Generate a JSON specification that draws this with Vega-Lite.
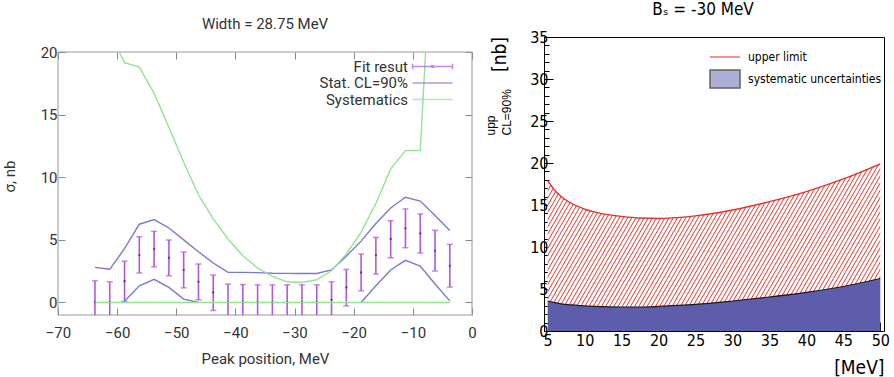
{
  "$schema": "https://vega.github.io/schema/vega-lite/v6.json",
  "background": "white",
  "padding": {"left": 2, "top": 0, "right": 0, "bottom": 0},
  "config": {"axis": {"grid": false, "domain": false}, "view": {"stroke": null}},
  "datasets": {
    "eb": [
      {"x": -63.75, "c": 0, "lo": -1.73, "hi": 1.73},
      {"x": -61.25, "c": 0, "lo": -1.65, "hi": 1.65},
      {"x": -58.75, "c": 1.7, "lo": 0.1, "hi": 3.3},
      {"x": -56.25, "c": 3.79, "lo": 2.35, "hi": 5.25},
      {"x": -53.75, "c": 4.27, "lo": 2.85, "hi": 5.68},
      {"x": -51.25, "c": 3.57, "lo": 2.13, "hi": 4.99},
      {"x": -48.75, "c": 2.59, "lo": 1.17, "hi": 4.03},
      {"x": -46.25, "c": 1.65, "lo": 0.21, "hi": 3.07},
      {"x": -43.75, "c": 0.8, "lo": -0.64, "hi": 2.19},
      {"x": -41.25, "c": 0, "lo": -1.47, "hi": 1.47},
      {"x": -38.75, "c": 0, "lo": -1.43, "hi": 1.43},
      {"x": -36.25, "c": 0, "lo": -1.41, "hi": 1.41},
      {"x": -33.75, "c": 0, "lo": -1.41, "hi": 1.41},
      {"x": -31.25, "c": 0, "lo": -1.41, "hi": 1.41},
      {"x": -28.75, "c": 0, "lo": -1.41, "hi": 1.41},
      {"x": -26.25, "c": 0, "lo": -1.41, "hi": 1.41},
      {"x": -23.75, "c": 0.21, "lo": -1.23, "hi": 1.65},
      {"x": -21.25, "c": 1.2, "lo": -0.27, "hi": 2.64},
      {"x": -18.75, "c": 2.4, "lo": 0.93, "hi": 3.87},
      {"x": -16.25, "c": 3.79, "lo": 2.27, "hi": 5.2},
      {"x": -13.75, "c": 5.07, "lo": 3.57, "hi": 6.53},
      {"x": -11.25, "c": 5.92, "lo": 4.37, "hi": 7.47},
      {"x": -8.75, "c": 5.52, "lo": 3.95, "hi": 7.07},
      {"x": -6.25, "c": 4.13, "lo": 2.51, "hi": 5.76},
      {"x": -3.75, "c": 2.93, "lo": 1.23, "hi": 4.64}
    ],
    "lines": [
      {"g": "stat", "s": "upper", "x": -63.75, "y": 2.8},
      {"g": "stat", "s": "upper", "x": -61.25, "y": 2.65},
      {"g": "stat", "s": "upper", "x": -58.75, "y": 4.3},
      {"g": "stat", "s": "upper", "x": -56.25, "y": 6.25},
      {"g": "stat", "s": "upper", "x": -53.75, "y": 6.62},
      {"g": "stat", "s": "upper", "x": -51.25, "y": 5.95},
      {"g": "stat", "s": "upper", "x": -48.75, "y": 5.0},
      {"g": "stat", "s": "upper", "x": -46.25, "y": 4.05},
      {"g": "stat", "s": "upper", "x": -43.75, "y": 3.15},
      {"g": "stat", "s": "upper", "x": -41.25, "y": 2.4},
      {"g": "stat", "s": "upper", "x": -38.75, "y": 2.4},
      {"g": "stat", "s": "upper", "x": -36.25, "y": 2.38},
      {"g": "stat", "s": "upper", "x": -33.75, "y": 2.33},
      {"g": "stat", "s": "upper", "x": -31.25, "y": 2.32},
      {"g": "stat", "s": "upper", "x": -28.75, "y": 2.32},
      {"g": "stat", "s": "upper", "x": -26.25, "y": 2.32},
      {"g": "stat", "s": "upper", "x": -23.75, "y": 2.6},
      {"g": "stat", "s": "upper", "x": -21.25, "y": 3.7},
      {"g": "stat", "s": "upper", "x": -18.75, "y": 4.9},
      {"g": "stat", "s": "upper", "x": -16.25, "y": 6.3},
      {"g": "stat", "s": "upper", "x": -13.75, "y": 7.55},
      {"g": "stat", "s": "upper", "x": -11.25, "y": 8.4},
      {"g": "stat", "s": "upper", "x": -8.75, "y": 8.1},
      {"g": "stat", "s": "upper", "x": -6.25, "y": 6.95},
      {"g": "stat", "s": "upper", "x": -3.75, "y": 5.75},
      {"g": "stat", "s": "lowL", "x": -58.75, "y": 0.1},
      {"g": "stat", "s": "lowL", "x": -56.25, "y": 1.33},
      {"g": "stat", "s": "lowL", "x": -53.75, "y": 1.85},
      {"g": "stat", "s": "lowL", "x": -51.25, "y": 1.2},
      {"g": "stat", "s": "lowL", "x": -48.75, "y": 0.27},
      {"g": "stat", "s": "lowL", "x": -46.25, "y": 0},
      {"g": "stat", "s": "lowR", "x": -18.75, "y": 0},
      {"g": "stat", "s": "lowR", "x": -16.25, "y": 1.33},
      {"g": "stat", "s": "lowR", "x": -13.75, "y": 2.6},
      {"g": "stat", "s": "lowR", "x": -11.25, "y": 3.36},
      {"g": "stat", "s": "lowR", "x": -8.75, "y": 2.9},
      {"g": "stat", "s": "lowR", "x": -6.25, "y": 1.47},
      {"g": "stat", "s": "lowR", "x": -3.75, "y": 0.13},
      {"g": "sys", "s": "sys", "x": -59.65, "y": 20},
      {"g": "sys", "s": "sys", "x": -58.75, "y": 19.15},
      {"g": "sys", "s": "sys", "x": -56.25, "y": 18.8},
      {"g": "sys", "s": "sys", "x": -53.75, "y": 16.7},
      {"g": "sys", "s": "sys", "x": -51.25, "y": 14.0},
      {"g": "sys", "s": "sys", "x": -48.75, "y": 11.2},
      {"g": "sys", "s": "sys", "x": -46.25, "y": 8.6},
      {"g": "sys", "s": "sys", "x": -43.75, "y": 6.67},
      {"g": "sys", "s": "sys", "x": -41.25, "y": 5.07},
      {"g": "sys", "s": "sys", "x": -38.75, "y": 3.73},
      {"g": "sys", "s": "sys", "x": -36.25, "y": 2.75},
      {"g": "sys", "s": "sys", "x": -33.75, "y": 2.08},
      {"g": "sys", "s": "sys", "x": -31.25, "y": 1.65},
      {"g": "sys", "s": "sys", "x": -28.75, "y": 1.6},
      {"g": "sys", "s": "sys", "x": -26.25, "y": 1.81},
      {"g": "sys", "s": "sys", "x": -23.75, "y": 2.53},
      {"g": "sys", "s": "sys", "x": -21.25, "y": 3.87},
      {"g": "sys", "s": "sys", "x": -18.75, "y": 5.6},
      {"g": "sys", "s": "sys", "x": -16.25, "y": 7.9},
      {"g": "sys", "s": "sys", "x": -13.75, "y": 10.67},
      {"g": "sys", "s": "sys", "x": -11.25, "y": 12.13},
      {"g": "sys", "s": "sys", "x": -8.75, "y": 12.13},
      {"g": "sys", "s": "sys", "x": -7.85, "y": 20},
      {"g": "sys", "s": "zero", "x": -63.75, "y": 0},
      {"g": "sys", "s": "zero", "x": -3.75, "y": 0}
    ],
    "right": [
      {"x": 5, "up": 17.9, "sys": 3.57},
      {"x": 6, "up": 16.7, "sys": 3.37},
      {"x": 7, "up": 15.9, "sys": 3.2},
      {"x": 8, "up": 15.3, "sys": 3.12},
      {"x": 10, "up": 14.5, "sys": 2.98},
      {"x": 12.5, "up": 13.95, "sys": 2.9},
      {"x": 15, "up": 13.65, "sys": 2.86},
      {"x": 17.5, "up": 13.45, "sys": 2.86},
      {"x": 20, "up": 13.4, "sys": 2.93},
      {"x": 22.5, "up": 13.5, "sys": 3.04},
      {"x": 25, "up": 13.7, "sys": 3.17},
      {"x": 30, "up": 14.4, "sys": 3.57},
      {"x": 35, "up": 15.4, "sys": 4.05},
      {"x": 40, "up": 16.6, "sys": 4.6},
      {"x": 45, "up": 18.1, "sys": 5.3},
      {"x": 50, "up": 19.9, "sys": 6.25}
    ]
  },
  "spacing": 6,
  "resolve": {"scale": {"color": "independent", "shape": "independent", "fill": "independent", "stroke": "independent"}, "legend": {"color": "independent", "shape": "independent", "fill": "independent", "stroke": "independent"}},
  "hconcat": [
    {
      "width": 414,
      "height": 278,
      "title": {"text": "Width = 28.75 MeV", "font": "Roboto", "fontSize": 15, "fontWeight": "normal", "color": "#333333", "offset": 5},
      "resolve": {"axis": {"x": "independent", "y": "independent"}},
      "layer": [
        {
          "data": {"values": [{}]},
          "mark": {"type": "rect", "fill": null, "stroke": "#999999", "strokeWidth": 1},
          "encoding": {
            "x": {"datum": -70, "type": "quantitative", "scale": {"domain": [-70, 0], "nice": false, "zero": false}, "axis": null},
            "x2": {"datum": 0},
            "y": {"datum": -1, "type": "quantitative", "scale": {"domain": [-1, 21.2], "nice": false, "zero": false}, "axis": null},
            "y2": {"datum": 20}
          }
        },
        {
          "data": {"name": "eb"},
          "mark": {"type": "rule", "color": "#b05ad8", "strokeWidth": 1.6, "clip": true},
          "encoding": {
            "x": {"field": "x", "type": "quantitative",
              "axis": {"orient": "bottom", "values": [-70, -60, -50, -40, -30, -20, -10, 0], "title": "Peak position, MeV", "tickSize": -7, "tickColor": "#888888", "labelFont": "Roboto", "labelFontSize": 15, "labelColor": "#333333", "labelPadding": 17, "labelFlush": false, "labelOverlap": false, "titleFont": "Roboto", "titleFontSize": 15, "titleFontWeight": "normal", "titleColor": "#333333", "titlePadding": 11}},
            "y": {"field": "lo", "type": "quantitative",
              "axis": {"orient": "left", "values": [0, 5, 10, 15, 20], "title": "σ, nb", "tickSize": -7, "tickColor": "#888888", "labelFont": "Roboto", "labelFontSize": 15, "labelColor": "#333333", "labelPadding": 8, "labelOverlap": false, "titleFont": "Roboto", "titleFontSize": 15, "titleFontWeight": "normal", "titleColor": "#333333", "titlePadding": 23}},
            "y2": {"field": "hi"}
          }
        },
        {
          "data": {"name": "eb"},
          "transform": [{"fold": ["lo", "hi"], "as": ["k", "v"]}],
          "mark": {"type": "tick", "orient": "horizontal", "color": "#b05ad8", "size": 6, "thickness": 1.5, "clip": true},
          "encoding": {
            "x": {"field": "x", "type": "quantitative", "axis": {"orient": "top", "offset": -15, "values": [-70, -60, -50, -40, -30, -20, -10, 0], "labels": false, "tickSize": -7, "tickColor": "#888888", "title": null}},
            "y": {"field": "v", "type": "quantitative", "axis": {"orient": "right", "values": [0, 5, 10, 15, 20], "labels": false, "tickSize": -7, "tickColor": "#888888", "title": null}}
          }
        },
        {
          "data": {"name": "eb"},
          "mark": {"type": "point", "filled": true, "size": 5, "color": "#6a2c8c", "opacity": 1, "clip": true},
          "encoding": {
            "x": {"field": "x", "type": "quantitative", "axis": null},
            "y": {"field": "c", "type": "quantitative", "axis": null}
          }
        },
        {
          "data": {"name": "lines"},
          "transform": [{"filter": "datum.g == 'stat'"}],
          "mark": {"type": "line", "color": "#7a7ad6", "strokeWidth": 1.4, "clip": true},
          "encoding": {
            "x": {"field": "x", "type": "quantitative", "axis": null},
            "y": {"field": "y", "type": "quantitative", "axis": null},
            "detail": {"field": "s"}
          }
        },
        {
          "data": {"name": "lines"},
          "transform": [{"filter": "datum.g == 'sys'"}],
          "mark": {"type": "line", "color": "#92e492", "strokeWidth": 1.4, "clip": true},
          "encoding": {
            "x": {"field": "x", "type": "quantitative", "axis": null},
            "y": {"field": "y", "type": "quantitative", "axis": null},
            "detail": {"field": "s"}
          }
        },
        {
          "data": {"values": [{"series": "Fit resut"}, {"series": "Stat. CL=90%"}, {"series": "Systematics"}]},
          "mark": {"type": "point", "filled": false, "strokeWidth": 1.5},
          "encoding": {
            "x": {"field": "px", "type": "quantitative", "axis": null},
            "y": {"field": "py", "type": "quantitative", "axis": null},
            "color": {"field": "series", "type": "nominal",
              "scale": {"domain": ["Fit resut", "Stat. CL=90%", "Systematics"], "range": ["#b05ad8", "#7a7ad6", "#92e492"]},
              "legend": {"title": null, "orient": "none", "legendX": 367, "legendY": 22, "padding": 0, "symbolSize": 64, "symbolStrokeWidth": 1.5, "labelAlign": "right", "labelOffset": -32, "labelFont": "Roboto", "labelFontSize": 15, "labelColor": "#333333", "rowPadding": 0.5}},
            "shape": {"field": "series", "type": "nominal",
              "scale": {"domain": ["Fit resut", "Stat. CL=90%", "Systematics"], "range": ["M-5,0H5M-5,-0.7V0.7M5,-0.7V0.7M-0.2,-0.2H0.2V0.2H-0.2Z", "M-5,0H5", "M-5,0H5"]},
              "legend": {"title": null, "orient": "none", "legendX": 367, "legendY": 22, "padding": 0, "symbolSize": 64, "symbolStrokeWidth": 1.5, "labelAlign": "right", "labelOffset": -32, "labelFont": "Roboto", "labelFontSize": 15, "labelColor": "#333333", "rowPadding": 0.5}}
          }
        }
      ]
    },
    {
      "width": 340,
      "height": 294,
      "view": {"stroke": "#000000", "strokeWidth": 1},
      "title": {"text": "Bₛ = -30 MeV", "font": "Liberation Sans Narrow, DejaVu Sans Condensed, sans-serif", "fontSize": 17, "fontWeight": "normal", "color": "#000000", "offset": 10, "dx": -11},
      "resolve": {"axis": {"x": "independent", "y": "independent"}},
      "layer": [
        {
          "data": {"name": "right"},
          "mark": {"type": "area", "interpolate": "monotone", "fill": {"gradient": "linear", "x1": 0, "y1": 0, "x2": 1.176, "y2": 0.292, "stops": [
            {"offset": 0, "color": "#ffffff"}, {"offset": 0.005, "color": "#ffffff"}, {"offset": 0.0075, "color": "#e63c32"},
            {"offset": 0.01, "color": "#ffffff"}, {"offset": 0.015, "color": "#ffffff"}, {"offset": 0.0175, "color": "#e63c32"},
            {"offset": 0.02, "color": "#ffffff"}, {"offset": 0.025, "color": "#ffffff"}, {"offset": 0.0275, "color": "#e63c32"},
            {"offset": 0.03, "color": "#ffffff"}, {"offset": 0.035, "color": "#ffffff"}, {"offset": 0.0375, "color": "#e63c32"},
            {"offset": 0.04, "color": "#ffffff"}, {"offset": 0.045, "color": "#ffffff"}, {"offset": 0.0475, "color": "#e63c32"},
            {"offset": 0.05, "color": "#ffffff"}, {"offset": 0.055, "color": "#ffffff"}, {"offset": 0.0575, "color": "#e63c32"},
            {"offset": 0.06, "color": "#ffffff"}, {"offset": 0.065, "color": "#ffffff"}, {"offset": 0.0675, "color": "#e63c32"},
            {"offset": 0.07, "color": "#ffffff"}, {"offset": 0.075, "color": "#ffffff"}, {"offset": 0.0775, "color": "#e63c32"},
            {"offset": 0.08, "color": "#ffffff"}, {"offset": 0.085, "color": "#ffffff"}, {"offset": 0.0875, "color": "#e63c32"},
            {"offset": 0.09, "color": "#ffffff"}, {"offset": 0.095, "color": "#ffffff"}, {"offset": 0.0975, "color": "#e63c32"},
            {"offset": 0.10, "color": "#ffffff"}, {"offset": 0.105, "color": "#ffffff"}, {"offset": 0.1075, "color": "#e63c32"},
            {"offset": 0.11, "color": "#ffffff"}, {"offset": 0.115, "color": "#ffffff"}, {"offset": 0.1175, "color": "#e63c32"},
            {"offset": 0.12, "color": "#ffffff"}, {"offset": 0.125, "color": "#ffffff"}, {"offset": 0.1275, "color": "#e63c32"},
            {"offset": 0.13, "color": "#ffffff"}, {"offset": 0.135, "color": "#ffffff"}, {"offset": 0.1375, "color": "#e63c32"},
            {"offset": 0.14, "color": "#ffffff"}, {"offset": 0.145, "color": "#ffffff"}, {"offset": 0.1475, "color": "#e63c32"},
            {"offset": 0.15, "color": "#ffffff"}, {"offset": 0.155, "color": "#ffffff"}, {"offset": 0.1575, "color": "#e63c32"},
            {"offset": 0.16, "color": "#ffffff"}, {"offset": 0.165, "color": "#ffffff"}, {"offset": 0.1675, "color": "#e63c32"},
            {"offset": 0.17, "color": "#ffffff"}, {"offset": 0.175, "color": "#ffffff"}, {"offset": 0.1775, "color": "#e63c32"},
            {"offset": 0.18, "color": "#ffffff"}, {"offset": 0.185, "color": "#ffffff"}, {"offset": 0.1875, "color": "#e63c32"},
            {"offset": 0.19, "color": "#ffffff"}, {"offset": 0.195, "color": "#ffffff"}, {"offset": 0.1975, "color": "#e63c32"},
            {"offset": 0.20, "color": "#ffffff"}, {"offset": 0.205, "color": "#ffffff"}, {"offset": 0.2075, "color": "#e63c32"},
            {"offset": 0.21, "color": "#ffffff"}, {"offset": 0.215, "color": "#ffffff"}, {"offset": 0.2175, "color": "#e63c32"},
            {"offset": 0.22, "color": "#ffffff"}, {"offset": 0.225, "color": "#ffffff"}, {"offset": 0.2275, "color": "#e63c32"},
            {"offset": 0.23, "color": "#ffffff"}, {"offset": 0.235, "color": "#ffffff"}, {"offset": 0.2375, "color": "#e63c32"},
            {"offset": 0.24, "color": "#ffffff"}, {"offset": 0.245, "color": "#ffffff"}, {"offset": 0.2475, "color": "#e63c32"},
            {"offset": 0.25, "color": "#ffffff"}, {"offset": 0.255, "color": "#ffffff"}, {"offset": 0.2575, "color": "#e63c32"},
            {"offset": 0.26, "color": "#ffffff"}, {"offset": 0.265, "color": "#ffffff"}, {"offset": 0.2675, "color": "#e63c32"},
            {"offset": 0.27, "color": "#ffffff"}, {"offset": 0.275, "color": "#ffffff"}, {"offset": 0.2775, "color": "#e63c32"},
            {"offset": 0.28, "color": "#ffffff"}, {"offset": 0.285, "color": "#ffffff"}, {"offset": 0.2875, "color": "#e63c32"},
            {"offset": 0.29, "color": "#ffffff"}, {"offset": 0.295, "color": "#ffffff"}, {"offset": 0.2975, "color": "#e63c32"},
            {"offset": 0.30, "color": "#ffffff"}, {"offset": 0.305, "color": "#ffffff"}, {"offset": 0.3075, "color": "#e63c32"},
            {"offset": 0.31, "color": "#ffffff"}, {"offset": 0.315, "color": "#ffffff"}, {"offset": 0.3175, "color": "#e63c32"},
            {"offset": 0.32, "color": "#ffffff"}, {"offset": 0.325, "color": "#ffffff"}, {"offset": 0.3275, "color": "#e63c32"},
            {"offset": 0.33, "color": "#ffffff"}, {"offset": 0.335, "color": "#ffffff"}, {"offset": 0.3375, "color": "#e63c32"},
            {"offset": 0.34, "color": "#ffffff"}, {"offset": 0.345, "color": "#ffffff"}, {"offset": 0.3475, "color": "#e63c32"},
            {"offset": 0.35, "color": "#ffffff"}, {"offset": 0.355, "color": "#ffffff"}, {"offset": 0.3575, "color": "#e63c32"},
            {"offset": 0.36, "color": "#ffffff"}, {"offset": 0.365, "color": "#ffffff"}, {"offset": 0.3675, "color": "#e63c32"},
            {"offset": 0.37, "color": "#ffffff"}, {"offset": 0.375, "color": "#ffffff"}, {"offset": 0.3775, "color": "#e63c32"},
            {"offset": 0.38, "color": "#ffffff"}, {"offset": 0.385, "color": "#ffffff"}, {"offset": 0.3875, "color": "#e63c32"},
            {"offset": 0.39, "color": "#ffffff"}, {"offset": 0.395, "color": "#ffffff"}, {"offset": 0.3975, "color": "#e63c32"},
            {"offset": 0.40, "color": "#ffffff"}, {"offset": 0.405, "color": "#ffffff"}, {"offset": 0.4075, "color": "#e63c32"},
            {"offset": 0.41, "color": "#ffffff"}, {"offset": 0.415, "color": "#ffffff"}, {"offset": 0.4175, "color": "#e63c32"},
            {"offset": 0.42, "color": "#ffffff"}, {"offset": 0.425, "color": "#ffffff"}, {"offset": 0.4275, "color": "#e63c32"},
            {"offset": 0.43, "color": "#ffffff"}, {"offset": 0.435, "color": "#ffffff"}, {"offset": 0.4375, "color": "#e63c32"},
            {"offset": 0.44, "color": "#ffffff"}, {"offset": 0.445, "color": "#ffffff"}, {"offset": 0.4475, "color": "#e63c32"},
            {"offset": 0.45, "color": "#ffffff"}, {"offset": 0.455, "color": "#ffffff"}, {"offset": 0.4575, "color": "#e63c32"},
            {"offset": 0.46, "color": "#ffffff"}, {"offset": 0.465, "color": "#ffffff"}, {"offset": 0.4675, "color": "#e63c32"},
            {"offset": 0.47, "color": "#ffffff"}, {"offset": 0.475, "color": "#ffffff"}, {"offset": 0.4775, "color": "#e63c32"},
            {"offset": 0.48, "color": "#ffffff"}, {"offset": 0.485, "color": "#ffffff"}, {"offset": 0.4875, "color": "#e63c32"},
            {"offset": 0.49, "color": "#ffffff"}, {"offset": 0.495, "color": "#ffffff"}, {"offset": 0.4975, "color": "#e63c32"},
            {"offset": 0.50, "color": "#ffffff"}, {"offset": 0.505, "color": "#ffffff"}, {"offset": 0.5075, "color": "#e63c32"},
            {"offset": 0.51, "color": "#ffffff"}, {"offset": 0.515, "color": "#ffffff"}, {"offset": 0.5175, "color": "#e63c32"},
            {"offset": 0.52, "color": "#ffffff"}, {"offset": 0.525, "color": "#ffffff"}, {"offset": 0.5275, "color": "#e63c32"},
            {"offset": 0.53, "color": "#ffffff"}, {"offset": 0.535, "color": "#ffffff"}, {"offset": 0.5375, "color": "#e63c32"},
            {"offset": 0.54, "color": "#ffffff"}, {"offset": 0.545, "color": "#ffffff"}, {"offset": 0.5475, "color": "#e63c32"},
            {"offset": 0.55, "color": "#ffffff"}, {"offset": 0.555, "color": "#ffffff"}, {"offset": 0.5575, "color": "#e63c32"},
            {"offset": 0.56, "color": "#ffffff"}, {"offset": 0.565, "color": "#ffffff"}, {"offset": 0.5675, "color": "#e63c32"},
            {"offset": 0.57, "color": "#ffffff"}, {"offset": 0.575, "color": "#ffffff"}, {"offset": 0.5775, "color": "#e63c32"},
            {"offset": 0.58, "color": "#ffffff"}, {"offset": 0.585, "color": "#ffffff"}, {"offset": 0.5875, "color": "#e63c32"},
            {"offset": 0.59, "color": "#ffffff"}, {"offset": 0.595, "color": "#ffffff"}, {"offset": 0.5975, "color": "#e63c32"},
            {"offset": 0.60, "color": "#ffffff"}, {"offset": 0.605, "color": "#ffffff"}, {"offset": 0.6075, "color": "#e63c32"},
            {"offset": 0.61, "color": "#ffffff"}, {"offset": 0.615, "color": "#ffffff"}, {"offset": 0.6175, "color": "#e63c32"},
            {"offset": 0.62, "color": "#ffffff"}, {"offset": 0.625, "color": "#ffffff"}, {"offset": 0.6275, "color": "#e63c32"},
            {"offset": 0.63, "color": "#ffffff"}, {"offset": 0.635, "color": "#ffffff"}, {"offset": 0.6375, "color": "#e63c32"},
            {"offset": 0.64, "color": "#ffffff"}, {"offset": 0.645, "color": "#ffffff"}, {"offset": 0.6475, "color": "#e63c32"},
            {"offset": 0.65, "color": "#ffffff"}, {"offset": 0.655, "color": "#ffffff"}, {"offset": 0.6575, "color": "#e63c32"},
            {"offset": 0.66, "color": "#ffffff"}, {"offset": 0.665, "color": "#ffffff"}, {"offset": 0.6675, "color": "#e63c32"},
            {"offset": 0.67, "color": "#ffffff"}, {"offset": 0.675, "color": "#ffffff"}, {"offset": 0.6775, "color": "#e63c32"},
            {"offset": 0.68, "color": "#ffffff"}, {"offset": 0.685, "color": "#ffffff"}, {"offset": 0.6875, "color": "#e63c32"},
            {"offset": 0.69, "color": "#ffffff"}, {"offset": 0.695, "color": "#ffffff"}, {"offset": 0.6975, "color": "#e63c32"},
            {"offset": 0.70, "color": "#ffffff"}, {"offset": 0.705, "color": "#ffffff"}, {"offset": 0.7075, "color": "#e63c32"},
            {"offset": 0.71, "color": "#ffffff"}, {"offset": 0.715, "color": "#ffffff"}, {"offset": 0.7175, "color": "#e63c32"},
            {"offset": 0.72, "color": "#ffffff"}, {"offset": 0.725, "color": "#ffffff"}, {"offset": 0.7275, "color": "#e63c32"},
            {"offset": 0.73, "color": "#ffffff"}, {"offset": 0.735, "color": "#ffffff"}, {"offset": 0.7375, "color": "#e63c32"},
            {"offset": 0.74, "color": "#ffffff"}, {"offset": 0.745, "color": "#ffffff"}, {"offset": 0.7475, "color": "#e63c32"},
            {"offset": 0.75, "color": "#ffffff"}, {"offset": 0.755, "color": "#ffffff"}, {"offset": 0.7575, "color": "#e63c32"},
            {"offset": 0.76, "color": "#ffffff"}, {"offset": 0.765, "color": "#ffffff"}, {"offset": 0.7675, "color": "#e63c32"},
            {"offset": 0.77, "color": "#ffffff"}, {"offset": 0.775, "color": "#ffffff"}, {"offset": 0.7775, "color": "#e63c32"},
            {"offset": 0.78, "color": "#ffffff"}, {"offset": 0.785, "color": "#ffffff"}, {"offset": 0.7875, "color": "#e63c32"},
            {"offset": 0.79, "color": "#ffffff"}, {"offset": 0.795, "color": "#ffffff"}, {"offset": 0.7975, "color": "#e63c32"},
            {"offset": 0.80, "color": "#ffffff"}, {"offset": 0.805, "color": "#ffffff"}, {"offset": 0.8075, "color": "#e63c32"},
            {"offset": 0.81, "color": "#ffffff"}, {"offset": 0.815, "color": "#ffffff"}, {"offset": 0.8175, "color": "#e63c32"},
            {"offset": 0.82, "color": "#ffffff"}, {"offset": 0.825, "color": "#ffffff"}, {"offset": 0.8275, "color": "#e63c32"},
            {"offset": 0.83, "color": "#ffffff"}, {"offset": 0.835, "color": "#ffffff"}, {"offset": 0.8375, "color": "#e63c32"},
            {"offset": 0.84, "color": "#ffffff"}, {"offset": 0.845, "color": "#ffffff"}, {"offset": 0.8475, "color": "#e63c32"},
            {"offset": 0.85, "color": "#ffffff"}, {"offset": 0.855, "color": "#ffffff"}, {"offset": 0.8575, "color": "#e63c32"},
            {"offset": 0.86, "color": "#ffffff"}, {"offset": 0.865, "color": "#ffffff"}, {"offset": 0.8675, "color": "#e63c32"},
            {"offset": 0.87, "color": "#ffffff"}, {"offset": 0.875, "color": "#ffffff"}, {"offset": 0.8775, "color": "#e63c32"},
            {"offset": 0.88, "color": "#ffffff"}, {"offset": 0.885, "color": "#ffffff"}, {"offset": 0.8875, "color": "#e63c32"},
            {"offset": 0.89, "color": "#ffffff"}, {"offset": 0.895, "color": "#ffffff"}, {"offset": 0.8975, "color": "#e63c32"},
            {"offset": 0.90, "color": "#ffffff"}, {"offset": 0.905, "color": "#ffffff"}, {"offset": 0.9075, "color": "#e63c32"},
            {"offset": 0.91, "color": "#ffffff"}, {"offset": 0.915, "color": "#ffffff"}, {"offset": 0.9175, "color": "#e63c32"},
            {"offset": 0.92, "color": "#ffffff"}, {"offset": 0.925, "color": "#ffffff"}, {"offset": 0.9275, "color": "#e63c32"},
            {"offset": 0.93, "color": "#ffffff"}, {"offset": 0.935, "color": "#ffffff"}, {"offset": 0.9375, "color": "#e63c32"},
            {"offset": 0.94, "color": "#ffffff"}, {"offset": 0.945, "color": "#ffffff"}, {"offset": 0.9475, "color": "#e63c32"},
            {"offset": 0.95, "color": "#ffffff"}, {"offset": 0.955, "color": "#ffffff"}, {"offset": 0.9575, "color": "#e63c32"},
            {"offset": 0.96, "color": "#ffffff"}, {"offset": 0.965, "color": "#ffffff"}, {"offset": 0.9675, "color": "#e63c32"},
            {"offset": 0.97, "color": "#ffffff"}, {"offset": 0.975, "color": "#ffffff"}, {"offset": 0.9775, "color": "#e63c32"},
            {"offset": 0.98, "color": "#ffffff"}, {"offset": 0.985, "color": "#ffffff"}, {"offset": 0.9875, "color": "#e63c32"},
            {"offset": 0.99, "color": "#ffffff"}, {"offset": 0.995, "color": "#ffffff"}, {"offset": 0.9975, "color": "#e63c32"},
            {"offset": 1, "color": "#ffffff"}
          ]}},
          "encoding": {
            "x": {"field": "x", "type": "quantitative", "scale": {"domain": [4.5, 50.5], "nice": false, "zero": false},
              "axis": {"orient": "bottom", "values": [5, 10, 15, 20, 25, 30, 35, 40, 45, 50], "title": "[MeV]", "titleAnchor": "end", "titleFont": "Liberation Sans Narrow, DejaVu Sans Condensed, sans-serif", "titleFontSize": 19, "titleFontWeight": "normal", "titleColor": "#000000", "titlePadding": 10, "tickSize": -9, "tickColor": "#000000", "labelFont": "Liberation Sans Narrow, DejaVu Sans Condensed, sans-serif", "labelFontSize": 16, "labelColor": "#000000", "labelPadding": 10, "labelFlush": false, "labelOverlap": false}},
            "y": {"field": "sys", "type": "quantitative", "scale": {"domain": [0, 35], "nice": false, "zero": false},
              "axis": {"orient": "left", "values": [0, 5, 10, 15, 20, 25, 30, 35], "title": ["upp", "CL=90%"], "titleAngle": 270, "titleX": -50, "titleY": 98, "titleAlign": "left", "titleBaseline": "alphabetic", "titleFont": "Liberation Sans, sans-serif", "titleFontSize": 12, "titleLineHeight": 16, "titleFontWeight": "normal", "titleColor": "#000000", "tickSize": -9, "tickColor": "#000000", "labelFont": "Liberation Sans Narrow, DejaVu Sans Condensed, sans-serif", "labelFontSize": 16, "labelColor": "#000000", "labelPadding": 5, "labelOverlap": false}},
            "y2": {"field": "up"}
          }
        },
        {
          "data": {"name": "right"},
          "mark": {"type": "area", "color": "#5d5dab", "interpolate": "monotone"},
          "encoding": {
            "x": {"field": "x", "type": "quantitative",
              "axis": {"orient": "bottom", "values": [5, 6, 7, 8, 9, 10, 11, 12, 13, 14, 15, 16, 17, 18, 19, 20, 21, 22, 23, 24, 25, 26, 27, 28, 29, 30, 31, 32, 33, 34, 35, 36, 37, 38, 39, 40, 41, 42, 43, 44, 45, 46, 47, 48, 49, 50], "labels": false, "title": null, "tickSize": -5, "tickColor": "#000000"}},
            "y": {"field": "sys", "type": "quantitative",
              "axis": {"orient": "left", "values": [0, 1, 2, 3, 4, 5, 6, 7, 8, 9, 10, 11, 12, 13, 14, 15, 16, 17, 18, 19, 20, 21, 22, 23, 24, 25, 26, 27, 28, 29, 30, 31, 32, 33, 34, 35], "labels": false, "title": null, "tickSize": -5, "tickColor": "#000000"}}
          }
        },
        {
          "data": {"name": "right"},
          "mark": {"type": "line", "color": "#1a1a1a", "strokeWidth": 1.2, "interpolate": "monotone"},
          "encoding": {
            "x": {"field": "x", "type": "quantitative", "axis": null},
            "y": {"field": "sys", "type": "quantitative", "axis": null}
          }
        },
        {
          "data": {"name": "right"},
          "mark": {"type": "line", "color": "#e8302a", "strokeWidth": 1.4, "interpolate": "monotone"},
          "encoding": {
            "x": {"field": "x", "type": "quantitative", "axis": null},
            "y": {"field": "up", "type": "quantitative", "axis": null}
          }
        },
        {
          "data": {"values": [{}]},
          "mark": {"type": "text", "text": "[nb]", "angle": 270, "align": "right", "baseline": "alphabetic", "font": "Liberation Sans Narrow, DejaVu Sans Condensed, sans-serif", "fontSize": 19, "color": "#000000", "dy": -38},
          "encoding": {
            "x": {"datum": 4.5, "type": "quantitative", "axis": null},
            "y": {"datum": 35, "type": "quantitative", "axis": null}
          }
        },
        {
          "data": {"values": [{"series": "upper limit"}, {"series": "systematic uncertainties"}]},
          "mark": {"type": "point", "filled": true, "strokeWidth": 1.3},
          "encoding": {
            "x": {"field": "px", "type": "quantitative", "axis": null},
            "y": {"field": "py", "type": "quantitative", "axis": null},
            "fill": {"field": "series", "type": "nominal",
              "scale": {"domain": ["upper limit", "systematic uncertainties"], "range": ["#e8302a", "#5d5dab"]},
              "legend": {"title": null, "orient": "none", "legendX": 165, "legendY": 4, "padding": 0, "symbolSize": 900, "labelOffset": 7, "labelLimit": 250, "labelFont": "Liberation Sans Narrow, DejaVu Sans Condensed, sans-serif", "labelFontSize": 12, "labelColor": "#000000", "rowPadding": -3}},
            "stroke": {"field": "series", "type": "nominal",
              "scale": {"domain": ["upper limit", "systematic uncertainties"], "range": ["#e8302a", "#222222"]},
              "legend": {"title": null, "orient": "none", "legendX": 165, "legendY": 4, "padding": 0, "symbolSize": 900, "labelOffset": 7, "labelLimit": 250, "labelFont": "Liberation Sans Narrow, DejaVu Sans Condensed, sans-serif", "labelFontSize": 12, "labelColor": "#000000", "rowPadding": -3}},
            "shape": {"field": "series", "type": "nominal",
              "scale": {"domain": ["upper limit", "systematic uncertainties"], "range": ["M-1,0H1", "M-1,-0.6H1V0.6H-1Z"]},
              "legend": {"title": null, "orient": "none", "legendX": 165, "legendY": 4, "padding": 0, "symbolSize": 900, "labelOffset": 7, "labelLimit": 250, "labelFont": "Liberation Sans Narrow, DejaVu Sans Condensed, sans-serif", "labelFontSize": 12, "labelColor": "#000000", "rowPadding": -3}}
          }
        }
      ]
    }
  ]
}
